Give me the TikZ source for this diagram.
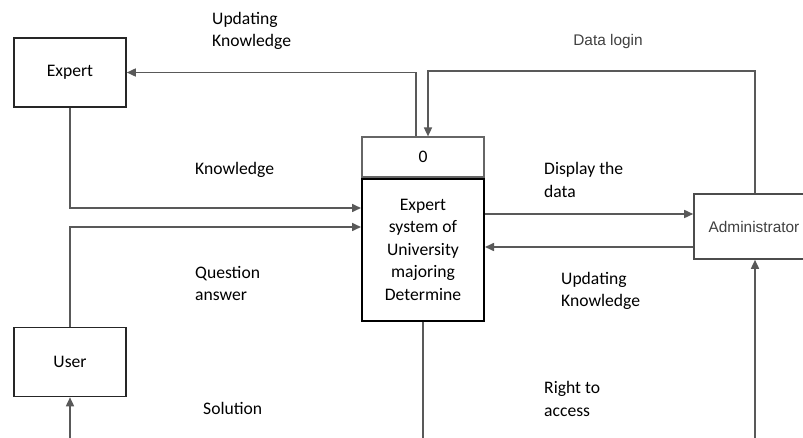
\documentclass[tikz,border=0pt]{standalone}
\usepackage{fontspec}
\setmainfont{Carlito}
\newfontfamily\arialfont{Liberation Sans}
\usetikzlibrary{arrows.meta,positioning}

\begin{document}
\begin{tikzpicture}[x=1pt,y=-1pt,
  box/.style={draw=black!85,line width=1.6pt,minimum width=112pt,minimum height=69pt,inner sep=0pt},
  flow/.style={draw=black!65,line width=1.6pt,-{Triangle[length=9pt,width=8pt]}},
  lbl/.style={align=left,inner sep=0pt,anchor=west},
  arialtxt/.style={font=\arialfont\fontsize{15.4}{18}\selectfont,text=black!75},
  font=\fontsize{17.6}{22.5}\selectfont]
\clip (0,0) rectangle (803,438);
\fill[white] (0,0) rectangle (803,438);
\node[box] (expert) at (70,72.5) {Expert};
\node[box] (user) at (70,362) {User};
\node[box,draw=black!70,minimum width=120pt,minimum height=65pt,arialtxt] (admin) at (754,226.5) {Administrator};
\node[draw=black!60,line width=1.2pt,minimum width=122pt,minimum height=40pt,inner sep=0pt] (procid) at (423,157) {0};
\node[draw=black,line width=2pt,minimum width=122pt,minimum height=142pt,align=center,anchor=north,inner sep=0pt] (proc) at (procid.south) {Expert\\system of\\University\\majoring\\Determine};
\node[lbl] (updlbl) at (212,31) {Updating\\Knowledge};
\node[lbl] (knowlbl) at (195,170) {Knowledge};
\node[lbl] (qalbl) at (195,283.5) {Question\\answer};
\node[lbl] (sollbl) at (203,408) {Solution};
\node[arialtxt] (loginlbl) at (608,42) {Data login};
\node[lbl] (displbl) at (544,180) {Display the\\data};
\node[lbl] (updlbl2) at (561,291) {Updating\\Knowledge};
\node[lbl] (rightlbl) at (544,399) {Right to\\access};
\coordinate (userfoot) at (70,438);
\coordinate (procfoot) at (423,438);
\coordinate (adminfoot) at (755,438);
\draw[flow] (expert.south) |- (proc.west |- 0,208);
\draw[flow] (user.north) |- (proc.west |- 0,227);
\draw[flow] (procid.north -| 416,0) |- (expert.east);
\draw[flow] (admin.north -| 755,0) -- (755,71) -| (procid.north -| 428,0);
\draw[flow] (proc.east |- 0,214) -- (admin.west |- 0,214);
\draw[flow] (admin.west |- 0,247) -- (proc.east |- 0,247);
\draw[flow,-] (proc.south) -- (procfoot);
\draw[flow] (userfoot) -- (user.south);
\draw[flow] (adminfoot) -- (admin.south -| 755,0);
\end{tikzpicture}
\end{document}
